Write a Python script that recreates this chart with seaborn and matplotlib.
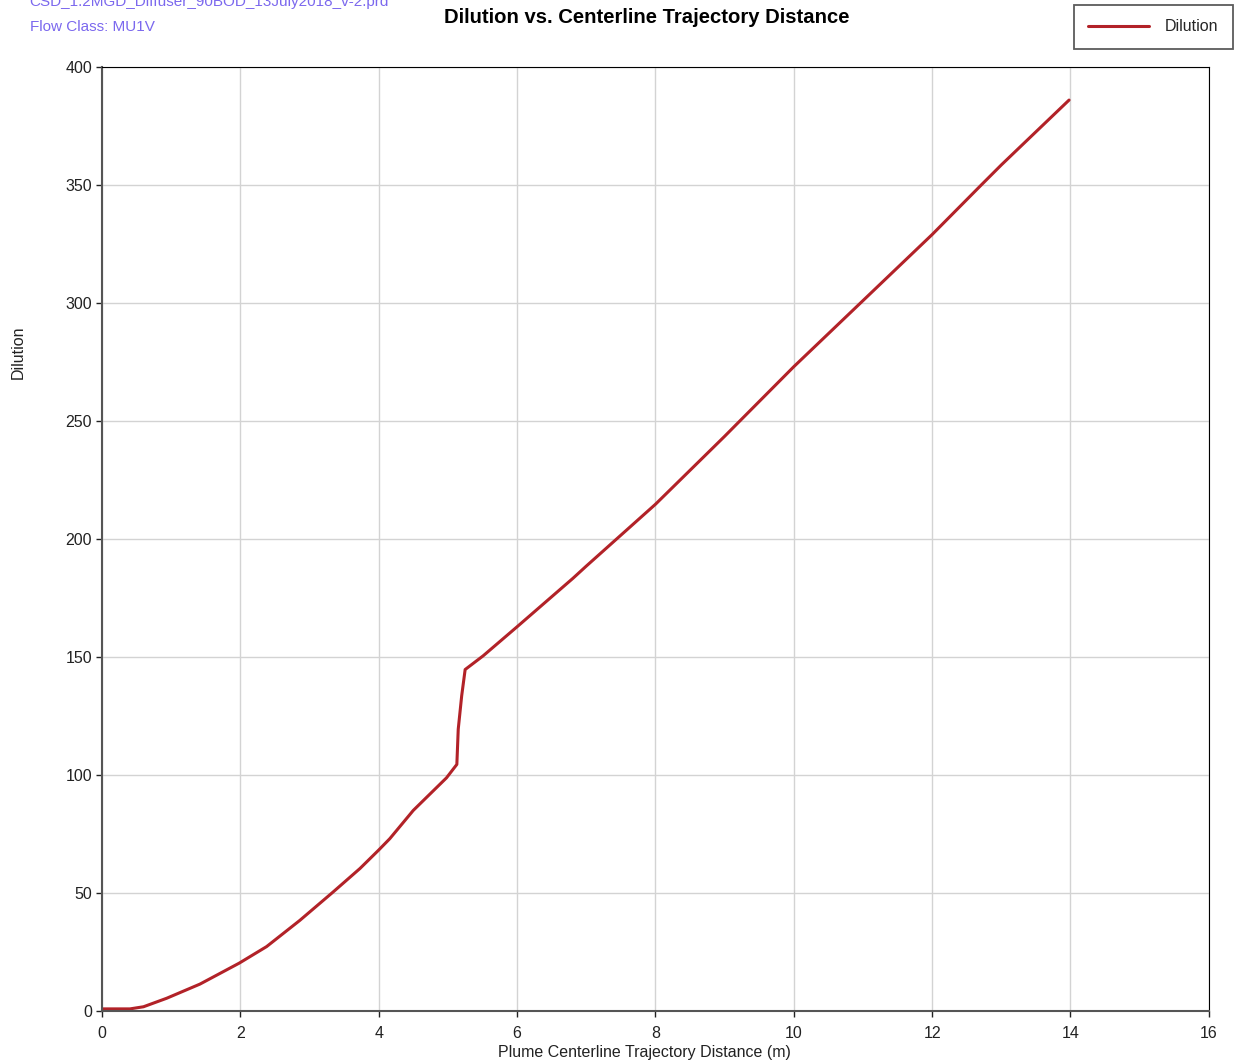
import matplotlib
matplotlib.use("Agg")
import matplotlib.pyplot as plt
import seaborn as sns
import pandas as pd

distance = [0.0, 0.2, 0.405, 0.6, 0.935, 1.416, 1.985, 2.38, 2.86, 3.34, 3.73, 4.0, 4.16,
            4.5, 4.98, 5.13, 5.15, 5.20, 5.25, 5.51, 6.0, 6.81, 7.0, 8.0, 9.0, 9.22, 10.0,
            11.0, 12.0, 12.71, 13.0, 13.98]
dilution = [0.9, 0.9, 0.9, 1.8, 5.4, 11.4, 20.3, 27.3, 38.4, 50.4, 60.4, 68.2, 73.0,
            85.0, 98.8, 104.5, 119.4, 133.6, 144.7, 150.5, 162.8, 183.4, 188.5, 214.7, 243.5, 250.0, 273.0,
            301.0, 329.0, 350.0, 358.5, 386.0]

df = pd.DataFrame({"Plume Centerline Trajectory Distance (m)": distance, "Dilution": dilution})

sns.set_theme(style="whitegrid")
plt.rcParams["font.family"] = ["Liberation Sans", "DejaVu Sans"]

fig = plt.figure(figsize=(12.36, 10.64), dpi=100)
ax = fig.add_axes([0.0825, 0.0498, 0.8955, 0.8872])

sns.lineplot(data=df, x="Plume Centerline Trajectory Distance (m)", y="Dilution",
             ax=ax, color="#B22228", linewidth=2.2, label="Dilution", sort=False)

ax.set_xlim(0, 16)
ax.set_ylim(0, 400)
ax.set_xticks(range(0, 17, 2))
ax.set_yticks(range(0, 401, 50))
ax.grid(True, color="#D3D3D3", linewidth=1)
ax.tick_params(axis="x", labelsize=11.5, colors="#222222", length=4, width=1, direction="out",
               bottom=True, pad=7)
ax.tick_params(axis="y", labelsize=11.5, colors="#222222", length=4, width=1, direction="out",
               left=True, pad=3)
for side in ["top", "right"]:
    ax.spines[side].set_color("#000000")
    ax.spines[side].set_linewidth(0.8)
for side in ["bottom", "left"]:
    ax.spines[side].set_color("#555555")
    ax.spines[side].set_linewidth(1.5)
ax.set_xlabel("Plume Centerline Trajectory Distance (m)", fontsize=11.5, color="#222222")
ax.set_ylabel("Dilution", fontsize=11.5, color="#222222")
ax.xaxis.set_label_coords(0.4905, -0.036)
ax.yaxis.set_label_coords(-0.0687, 0.698)

fig.text(0.5235, 0.984, "Dilution vs. Centerline Trajectory Distance", ha="center", va="center",
         fontsize=14.6, fontweight="bold", color="black")
fig.text(0.024, 0.998, "CSD_1.2MGD_Diffuser_90BOD_13July2018_v-2.prd", ha="left", va="center",
         fontsize=11, color="#7B68EE")
fig.text(0.024, 0.975, "Flow Class: MU1V", ha="left", va="center", fontsize=11, color="#7B68EE")

leg = ax.legend(loc="upper right", bbox_to_anchor=(1.0287, 1.0743), frameon=True, fancybox=False,
                fontsize=11.5, handlelength=3.8, borderpad=0.9, handletextpad=1.0)
leg.get_frame().set_edgecolor("#333333")
leg.get_frame().set_linewidth(1.3)

fig.savefig("out.png", dpi=100)
